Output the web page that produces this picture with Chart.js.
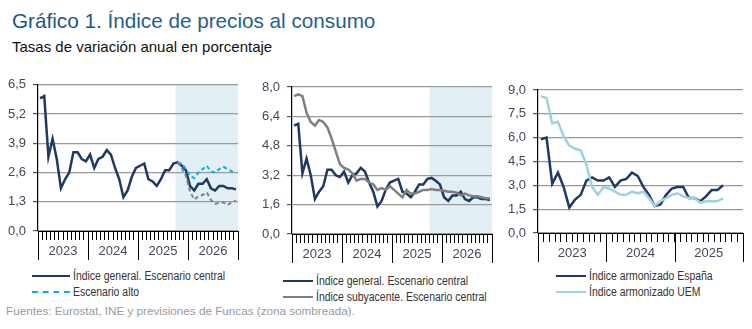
<!DOCTYPE html>
<html>
<head>
<meta charset="utf-8">
<script src="https://cdn.jsdelivr.net/npm/chart.js@4.4.1/dist/chart.umd.min.js"></script>
<style>
  body { margin: 0; background: #fff; font-family: "Liberation Sans", Arial, sans-serif; }
  #wrap { position: relative; width: 752px; height: 329px; overflow: hidden; }
  .titulo { position: absolute; left: 12px; top: 9px; font-size: 20.7px; color: #24618f; white-space: nowrap; }
  .titulo b { font-weight: normal; color: #1d5583; }
  .sub { position: absolute; left: 12px; top: 38px; font-size: 15px; color: #111; white-space: nowrap; }
  canvas { position: absolute; }
  .ley { position: absolute; font-size: 12px; color: #333; white-space: nowrap; line-height: 14px; }
  .ley i { display: inline-block; vertical-align: middle; margin-right: 3px; margin-top: -2px; }
  .ley span { display: inline-block; transform: scaleX(0.87); transform-origin: left center; }
  .fuente { position: absolute; left: 6px; top: 304px; font-size: 11.7px; color: #9a9a9a; white-space: nowrap; }
</style>
</head>
<body>
<div id="wrap">
  <div class="titulo"><b>Gráfico 1.</b> Índice de precios al consumo</div>
  <div class="sub">Tasas de variación anual en porcentaje</div>

  <canvas id="g1" width="245" height="195" style="left:0;top:70px"></canvas>
  <canvas id="g2" width="250" height="195" style="left:250px;top:70px"></canvas>
  <canvas id="g3" width="252" height="195" style="left:500px;top:70px"></canvas>

  <div class="ley" style="left:32px;top:269px"><i style="width:38px;border-top:2.5px solid #1f3864"></i><span>Índice general. Escenario central</span></div>
  <div class="ley" style="left:32px;top:285px"><i style="width:38px;border-top:2px dashed #00b0f0"></i><span>Escenario alto</span></div>

  <div class="ley" style="left:283px;top:274px"><i style="width:30px;border-top:2.5px solid #1f3864"></i><span>Índice general. Escenario central</span></div>
  <div class="ley" style="left:283px;top:290px"><i style="width:30px;border-top:2.5px solid #808080"></i><span>Índice subyacente. Escenario central</span></div>

  <div class="ley" style="left:556px;top:269px"><i style="width:30px;border-top:2.5px solid #1f3864"></i><span>Índice armonizado España</span></div>
  <div class="ley" style="left:556px;top:285px"><i style="width:30px;border-top:2.5px solid #9dd3e0"></i><span>Índice armonizado UEM</span></div>

  <div class="fuente">Fuentes: Eurostat, INE y previsiones de Funcas (zona sombreada).</div>
</div>

<script>
// ---- DATOS ----
// meses desde enero 2023; las previsiones empiezan en oct-2025 (indice 33)
const anios = ["2023", "2024", "2025", "2026"];
const inicioPrevision = 33;

// IPC general, escenario central (ene-2023 a dic-2026)
const ipcGeneral = [
  5.9, 6.0, 3.3, 4.1, 3.2, 1.9, 2.3, 2.6, 3.5, 3.5, 3.2, 3.1,
  3.4, 2.8, 3.2, 3.3, 3.6, 3.4, 2.8, 2.3, 1.5, 1.8, 2.4, 2.8,
  2.9, 3.0, 2.3, 2.2, 2.0, 2.3, 2.7, 2.7, 3.0, 3.05, 2.9, 2.7,
  2.0, 1.8, 2.1, 2.1, 2.3, 1.9, 1.8, 2.0, 2.0, 1.9, 1.9, 1.85
];
// escenarios alternativos (solo previsiones, oct-2025 a dic-2026)
const escenarioAlto = [3.05, 3.0, 2.75, 2.45, 2.35, 2.6, 2.75, 2.9, 2.65, 2.6, 2.75, 2.85, 2.75, 2.65, 2.6];
const escenarioBajo = [3.05, 2.8, 2.45, 1.75, 1.4, 1.55, 1.6, 1.72, 1.38, 1.2, 1.25, 1.27, 1.15, 1.28, 1.35];

// IPC subyacente, escenario central
const ipcSubyacente = [
  7.5, 7.6, 7.5, 6.6, 6.1, 5.9, 6.2, 6.1, 5.8, 5.2, 4.5, 3.8,
  3.6, 3.5, 3.3, 2.9, 3.0, 3.0, 2.8, 2.7, 2.4, 2.5, 2.4, 2.6,
  2.4, 2.2, 2.0, 2.4, 2.2, 2.2, 2.3, 2.4, 2.4, 2.45, 2.4, 2.4,
  2.35, 2.3, 2.3, 2.25, 2.1, 2.2, 2.1, 2.05, 2.05, 2.0, 1.95, 1.95
];

// IPCA Espana y zona euro (ene-2023 a sep-2025)
const ipcaEspana = [
  5.9, 6.0, 3.1, 3.8, 2.9, 1.6, 2.1, 2.4, 3.3, 3.5, 3.3, 3.3,
  3.5, 2.9, 3.3, 3.4, 3.8, 3.6, 2.9, 2.4, 1.7, 1.8, 2.4, 2.8,
  2.9, 2.9, 2.2, 2.2, 2.0, 2.3, 2.7, 2.7, 3.0
];
const ipcaUem = [
  8.6, 8.5, 6.9, 7.0, 6.1, 5.5, 5.3, 5.2, 4.3, 2.9, 2.4, 2.9,
  2.8, 2.6, 2.4, 2.4, 2.6, 2.5, 2.6, 2.2, 1.7, 2.0, 2.2, 2.4,
  2.5, 2.3, 2.2, 2.2, 1.9, 2.0, 2.0, 2.0, 2.2
];

// marcas del eje Y de cada grafico
const ticksY1 = [0, 1.3, 2.6, 3.9, 5.2, 6.5];
const ticksY2 = [0, 1.6, 3.2, 4.8, 6.4, 8.0];
const ticksY3 = [0, 1.5, 3.0, 4.5, 6.0, 7.5, 9.0];

// ---- COLORES ----
const azulOscuro = "#1f3864";
const azulClaro = "#00b0f0";
const gris = "#808080";
const celeste = "#9dd3e0";
const sombra = "#e2f0f5";
const textoEje = "#45475c";

// convierte una serie mensual en puntos centrados en cada mes
function aPuntos(serie, desde) {
  desde = desde || 0;
  return serie.map((v, i) => ({ x: desde + i + 0.5, y: v }));
}

function linea(datos, color, ancho, dash) {
  return {
    data: datos,
    borderColor: color,
    borderWidth: ancho,
    borderDash: dash || [],
    pointRadius: 0,
    tension: 0,
    fill: false
  };
}

// zona sombreada de previsiones
const zonaSombreada = {
  id: "zonaSombreada",
  beforeDraw(chart, args, opts) {
    if (opts.desde == null) return;
    const { ctx, chartArea, scales } = chart;
    const x0 = scales.x.getPixelForValue(opts.desde);
    const x1 = scales.x.getPixelForValue(scales.x.max);
    ctx.save();
    ctx.fillStyle = sombra;
    ctx.fillRect(x0, chartArea.top, x1 - x0, chartArea.bottom - chartArea.top);
    ctx.restore();
  }
};

// separadores largos entre anios bajo el eje
const separadoresAnio = {
  id: "separadoresAnio",
  afterDraw(chart) {
    const { ctx, chartArea, scales } = chart;
    ctx.save();
    ctx.strokeStyle = "#000";
    ctx.lineWidth = 1;
    for (let m = 0; m <= scales.x.max; m += 12) {
      const x = Math.round(scales.x.getPixelForValue(m)) + 0.5;
      ctx.beginPath();
      ctx.moveTo(x, chartArea.bottom);
      ctx.lineTo(x, chartArea.bottom + 29);
      ctx.stroke();
    }
    ctx.restore();
  }
};

function crearGrafico(id, meses, ticksY, series, desdeSombra, pad, altoX) {
  const maxY = ticksY[ticksY.length - 1];
  return new Chart(document.getElementById(id), {
    type: "line",
    data: { datasets: series },
    options: {
      responsive: false,
      animation: false,
      layout: { padding: { top: pad.top, right: pad.right, left: 0, bottom: 0 } },
      plugins: {
        legend: { display: false },
        tooltip: { enabled: false },
        zonaSombreada: { desde: desdeSombra }
      },
      scales: {
        x: {
          type: "linear",
          min: 0,
          max: meses,
          afterBuildTicks: s => {
            s.ticks = [];
            for (let m = 0; m <= meses; m++) s.ticks.push({ value: m });
          },
          afterFit: s => { s.height = altoX; },
          ticks: {
            autoSkip: false,
            maxRotation: 0,
            padding: 4,
            color: textoEje,
            font: { size: 13, family: "'Liberation Sans', Arial, sans-serif" },
            callback: v => (v % 12 === 6 ? anios[Math.floor(v / 12)] : "")
          },
          grid: { drawOnChartArea: false, tickLength: 9, tickColor: "#000", color: "#000" },
          border: { color: "#000", width: 1 }
        },
        y: {
          min: 0,
          max: maxY,
          afterBuildTicks: s => { s.ticks = ticksY.map(v => ({ value: v })); },
          afterFit: s => { s.width = pad.left; },
          ticks: {
            padding: 7,
            color: textoEje,
            font: { size: 13, family: "'Liberation Sans', Arial, sans-serif" },
            callback: v => v.toFixed(1).replace(".", ",")
          },
          grid: { color: "#9a9a9a", lineWidth: 1.2, tickLength: 5, tickColor: "#555" },
          border: { color: "#000", width: 1.2 }
        }
      }
    },
    plugins: [zonaSombreada, separadoresAnio]
  });
}

// Grafico 1: IPC general y escenarios
crearGrafico("g1", 48, ticksY1, [
  linea(aPuntos(escenarioBajo, inicioPrevision), gris, 2, [4, 3]),
  linea(aPuntos(escenarioAlto, inicioPrevision), azulClaro, 2, [4, 3]),
  linea(aPuntos(ipcGeneral), azulOscuro, 2.5)
], inicioPrevision, { top: 14, right: 7, left: 38 }, 34);

// Grafico 2: IPC general y subyacente
crearGrafico("g2", 48, ticksY2, [
  linea(aPuntos(ipcSubyacente), gris, 2.5),
  linea(aPuntos(ipcGeneral), azulOscuro, 2.5)
], inicioPrevision, { top: 17, right: 8, left: 42 }, 31);

// Grafico 3: IPCA Espana y UEM
crearGrafico("g3", 36, ticksY3, [
  linea(aPuntos(ipcaUem), celeste, 2.5),
  linea(aPuntos(ipcaEspana), azulOscuro, 2.5)
], null, { top: 20, right: 9, left: 38 }, 32);
</script>
</body>
</html>
